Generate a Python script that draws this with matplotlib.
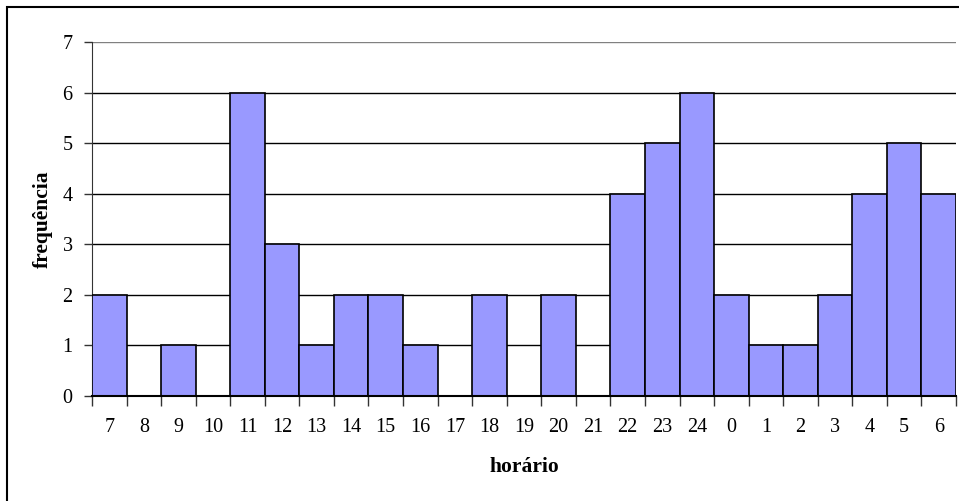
import matplotlib
matplotlib.use("Agg")
import matplotlib.pyplot as plt
from matplotlib.patches import Rectangle
import numpy as np

categories = ["7", "8", "9", "10", "11", "12", "13", "14", "15", "16", "17", "18",
              "19", "20", "21", "22", "23", "24", "0", "1", "2", "3", "4", "5", "6"]
values = [2, 0, 1, 0, 6, 3, 1, 2, 2, 1, 0, 2, 0, 2, 0, 4, 5, 6, 2, 1, 1, 2, 4, 5, 4]
y_ticks = [0, 1, 2, 3, 4, 5, 6, 7]

plt.rcParams['font.family'] = ['Liberation Serif', 'DejaVu Serif']

W, H = 959, 501
fig = plt.figure(figsize=(W / 100, H / 100), dpi=100)
L, R, T, B = 92, 956, 42, 396
ax = fig.add_axes([L / W, 1 - B / H, (R - L) / W, (B - T) / H])

# outer chart border (cropped at right/bottom)
fig.patches.append(Rectangle((7 / W, -0.1), 1.2, 1 - 7 / H + 0.1, transform=fig.transFigure,
                             fill=False, edgecolor='black', linewidth=1.5, zorder=0))

x = np.arange(len(categories))
ax.bar(x, values, width=1.0, color='#9999FF', edgecolor='black', linewidth=1.2, zorder=3)

ax.set_xlim(-0.5, len(categories) - 0.5)
ax.set_ylim(0, 7)
ax.set_yticks(y_ticks)
ax.set_yticklabels([str(v) for v in y_ticks], fontsize=14.5)
ax.set_xticks(x)
ax.set_xticklabels(categories, fontsize=14.5)
ax.tick_params(axis='x', length=0, pad=16)
ax.set_xticks(np.arange(-0.5, len(categories), 1.0), minor=True)
ax.tick_params(axis='x', which='minor', length=7, width=1, color='#333333', direction='out')
ax.tick_params(axis='y', length=6, width=1, color='#333333', direction='out', pad=8)

for v in y_ticks[1:]:
    ax.axhline(v, color='black' if v < 7 else '#808080', linewidth=1.0, zorder=1)

for s in ['top', 'right']:
    ax.spines[s].set_visible(False)
ax.spines['left'].set_color('#333333')
ax.spines['bottom'].set_color('black')
ax.spines['bottom'].set_linewidth(1.5)
ax.spines['bottom'].set_zorder(4)

ax.set_xlabel('horário', fontsize=15.5, fontweight='bold')
ax.set_ylabel('frequência', fontsize=15.5, fontweight='bold')
ax.xaxis.set_label_coords((524 - L) / (R - L) * 1.0 + 0.0 if False else 0.5, -(467 - B) / (B - T), transform=ax.transAxes)
ax.yaxis.set_label_coords(-(L - 43) / (R - L), 0.5, transform=ax.transAxes)
ax.xaxis.label.set_va('center')
ax.yaxis.label.set_va('center')

fig.savefig('out.png', dpi=100)
